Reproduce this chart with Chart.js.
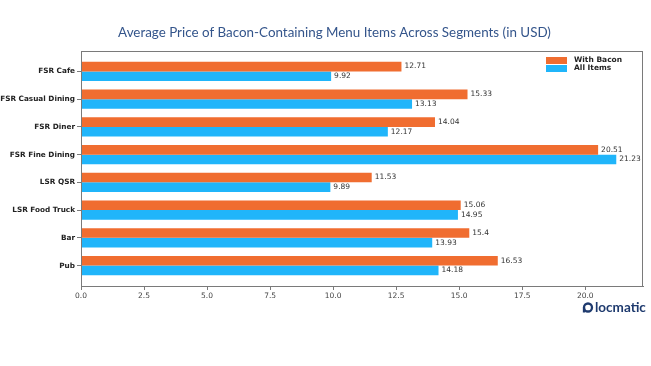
<!DOCTYPE html>
<html>
<head>
<meta charset="utf-8">
<script src="https://cdn.jsdelivr.net/npm/chart.js@4"></script>
<style>
html,body{margin:0;padding:0;background:#fff;}
#wrap{width:651px;height:366px;position:relative;}
</style>
</head>
<body>
<div id="wrap"><canvas id="c" width="651" height="366"></canvas></div>
<script>
const titleText = "Average Price of Bacon-Containing Menu Items Across Segments (in USD)";
const categories = ["FSR Cafe","FSR Casual Dining","FSR Diner","FSR Fine Dining","LSR QSR","LSR Food Truck","Bar","Pub"];
const withBacon = [12.71,15.33,14.04,20.51,11.53,15.06,15.4,16.53];
const allItems  = [9.92,13.13,12.17,21.23,9.89,14.95,13.93,14.18];
const seriesNames = ["With Bacon","All Items"];
const xTicks = [0,2.5,5,7.5,10,12.5,15,17.5,20];
const logoText = "locmatic";

const ORANGE = "#F06D30";
const BLUE = "#20B5FA";

function pts(arr){ return arr.map((v,i)=>({x:v,y:i})); }

const decor = {
  id:'decor',
  afterDraw(chart){
    const ctx = chart.ctx, a = chart.chartArea;
    ctx.save();
    // frame
    ctx.strokeStyle = '#7a7a7a'; ctx.lineWidth = 1;
    ctx.strokeRect(Math.round(a.left)+0.5, Math.round(a.top)+0.5, Math.round(a.right-a.left)-1, Math.round(a.bottom-a.top));
    // value labels
    ctx.font = '7.5px "DejaVu Sans"';
    ctx.fillStyle = '#333'; ctx.textBaseline = 'middle'; ctx.textAlign = 'left';
    chart.data.datasets.forEach((ds,di)=>{
      chart.getDatasetMeta(di).data.forEach((bar,i)=>{
        ctx.fillText(String(ds.data[i].x), bar.x + 3, bar.y);
      });
    });
    // legend
    const lx = a.right - 97, ly = a.top + 6;
    chart.data.datasets.forEach((ds,di)=>{
      ctx.fillStyle = ds.backgroundColor;
      ctx.fillRect(lx, ly + di*8, 21, 7);
      ctx.fillStyle = '#222';
      ctx.font = 'bold 7.5px "DejaVu Sans"';
      ctx.fillText(ds.label, lx + 28, ly + di*8 + 3.5);
    });
    // title
    ctx.fillStyle = '#34558B';
    ctx.textAlign = 'center';
    ctx.font = '13.4px Lato';
    ctx.fillText(titleText, 334.5, 33);
    // logo
    ctx.strokeStyle = '#1E3A6E'; ctx.lineWidth = 2.3;
    ctx.beginPath(); ctx.arc(588, 307.5, 4, 0, Math.PI*2); ctx.stroke();
    ctx.beginPath(); ctx.moveTo(584,307.5); ctx.lineTo(584,312.5); ctx.stroke();
    ctx.fillStyle = '#1E3A6E'; ctx.textAlign = 'left';
    ctx.font = 'bold 13.5px Lato';
    ctx.fillText(logoText, 595, 307.5);
    ctx.restore();
  }
};

new Chart(document.getElementById('c'), {
  type: 'bar',
  data: {
    datasets: [
      {label: seriesNames[0], data: pts(withBacon), backgroundColor: ORANGE, borderWidth: 0},
      {label: seriesNames[1], data: pts(allItems), backgroundColor: BLUE, borderWidth: 0}
    ]
  },
  options: {
    indexAxis: 'y',
    responsive: false,
    animation: false,
    devicePixelRatio: 1,
    layout: {padding: {left: 0, right: 8, top: 51, bottom: 0}},
    datasets: {bar: {categoryPercentage: 0.7, barPercentage: 1.0}},
    plugins: {legend: {display: false}, title: {display: false}, tooltip: {enabled: false}},
    scales: {
      x: {
        type: 'linear', min: 0, max: 22.29, offset: false,
        afterBuildTicks(s){ s.ticks = xTicks.map(v=>({value:v})); },
        afterFit(s){ s.height = 80; },
        grid: {drawOnChartArea: false, drawTicks: true, tickLength: 4, color: '#7a7a7a'},
        border: {display: true, color: '#7a7a7a'},
        ticks: {callback: v => Number(v).toFixed(1), font: {family: 'DejaVu Sans', size: 7.5}, color: '#444', padding: 2, maxRotation: 0, autoSkip: false}
      },
      y: {
        type: 'linear', reverse: true, min: -0.735, max: 7.735, offset: false,
        afterBuildTicks(s){ s.ticks = categories.map((c,i)=>({value:i})); },
        afterFit(s){ s.width = 81; },
        grid: {drawOnChartArea: false, drawTicks: true, tickLength: 4, color: '#7a7a7a', offset: false},
        border: {display: true, color: '#7a7a7a'},
        ticks: {callback: (v) => categories[v], font: {family: 'DejaVu Sans', size: 7.3, weight: 'bold'}, color: '#222', padding: 2, autoSkip: false}
      }
    }
  },
  plugins: [decor]
});
</script>
</body>
</html>
